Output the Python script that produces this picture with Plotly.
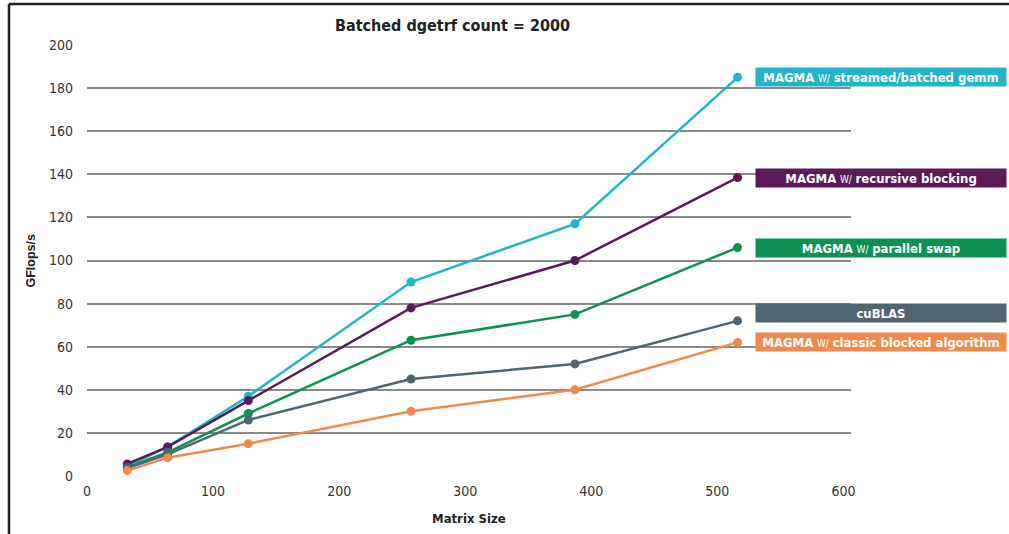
import plotly.graph_objects as go

matrix_size = [32, 64, 128, 257, 387, 516]

streamed_gemm = [4.6, 13.5, 37, 90, 117, 185]
recursive_blocking = [5.6, 13.5, 35, 78, 100, 138.5]
parallel_swap = [4, 11, 29, 63, 75, 106]
cublas = [3.7, 10, 26, 45, 52, 72]
classic_blocked = [2.5, 8.5, 15, 30, 40, 62]

series_names = [
    "MAGMA w/ streamed/batched gemm",
    "MAGMA w/ recursive blocking",
    "MAGMA w/ parallel swap",
    "cuBLAS",
    "MAGMA w/ classic blocked algorithm",
]
label_texts = [
    "<b>MAGMA</b> <span style='font-size:10px'>W/</span> <b>streamed/batched gemm</b>",
    "<b>MAGMA</b> <span style='font-size:10px'>W/</span> <b>recursive blocking</b>",
    "<b>MAGMA</b> <span style='font-size:10px'>W/</span> <b>parallel swap</b>",
    "<b>cuBLAS</b>",
    "<b>MAGMA</b> <span style='font-size:10px'>W/</span> <b>classic blocked algorithm</b>",
]
series_values = [streamed_gemm, recursive_blocking, parallel_swap, cublas, classic_blocked]
colors = ["#22B4C8", "#5A1A5A", "#0D9150", "#4F6570", "#EE8A4C"]
label_yshift = [0, 0, 0, 8, 0]

y_ticks = list(range(0, 201, 20))
x_ticks = list(range(0, 601, 100))

NARROW = "DejaVu Sans Condensed, Liberation Sans Narrow, Arial Narrow, sans-serif"
PW, PH = 764, 431

fig = go.Figure()
for name, vals, c in zip(series_names, series_values, colors):
    fig.add_trace(go.Scatter(
        x=matrix_size, y=vals, name=name, mode="lines+markers",
        line=dict(color=c, width=2.5),
        marker=dict(color=c, size=9),
        cliponaxis=False,
    ))

for text, vals, c, ys in zip(label_texts, series_values, colors, label_yshift):
    fig.add_annotation(
        x=(755 - 87) / PW, xref="paper", xanchor="left",
        y=vals[-1], yref="y", yanchor="middle", yshift=ys,
        text=text, showarrow=False,
        width=250, height=18, align="center", valign="middle",
        bgcolor=c, borderpad=0,
        font=dict(family=NARROW, size=13, color="white"),
    )

# title
fig.add_annotation(
    x=(452 - 87) / PW, xref="paper", y=1 + (45 - 26) / PH, yref="paper",
    text="<b>Batched dgetrf count = 2000</b>",
    showarrow=False, xanchor="center", yanchor="middle",
    font=dict(family=NARROW, size=16, color="#222"),
)

# axis titles
fig.add_annotation(
    x=(30 - 87) / PW, xref="paper", y=0.5, yref="paper", text="<b>GFlops/s</b>",
    showarrow=False, textangle=-90, xanchor="center", yanchor="middle",
    font=dict(family="Liberation Sans, Arial, sans-serif", size=12.5, color="#222"),
)
fig.add_annotation(
    x=0.5, xref="paper", y=-(518 - 476) / PH, yref="paper", text="<b>Matrix Size</b>",
    showarrow=False, xanchor="center", yanchor="middle",
    font=dict(family=NARROW, size=13, color="#222"),
)

# outer frame lines
fig.add_shape(type="line", xref="paper", yref="paper",
              x0=(9 - 87) / PW, x1=(9 - 87) / PW, y0=1 + 41 / PH, y1=-(540 - 476) / PH,
              line=dict(color="#222", width=2.5))
fig.add_shape(type="line", xref="paper", yref="paper",
              x0=(9 - 87) / PW, x1=(1012 - 87) / PW, y0=1 + 41 / PH, y1=1 + 41 / PH,
              line=dict(color="#222", width=2.5))

fig.update_layout(
    width=1009, height=534,
    margin=dict(l=87, r=158, t=45, b=58, autoexpand=False),
    paper_bgcolor="white", plot_bgcolor="white",
    showlegend=False,
    font=dict(family=NARROW, size=14, color="#333"),
    xaxis=dict(
        range=[0, 606], tickvals=x_ticks, showgrid=False, zeroline=False,
        showline=False, ticks="", ticklabelstandoff=5, automargin=False,
        tickfont=dict(family=NARROW, size=14, color="#333"),
    ),
    yaxis=dict(
        range=[0, 200], tickvals=y_ticks, showgrid=True, gridcolor="#8a8a8a", gridwidth=2,
        zeroline=False, showline=False, ticks="", ticklabelstandoff=13, automargin=False,
        tickfont=dict(family=NARROW, size=14, color="#333"),
    ),
)

fig.write_html(
    "out.html",
    config={"displayModeBar": False},
    post_script="document.body.style.margin='0';document.body.style.overflow='hidden';",
)
